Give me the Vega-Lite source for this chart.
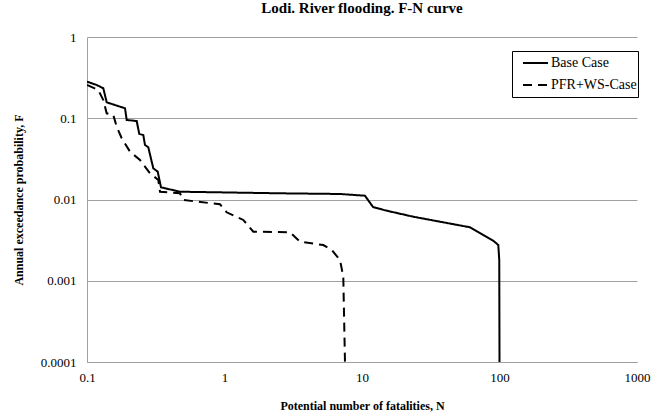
{
  "$schema": "https://vega.github.io/schema/vega-lite/v6.json",
  "width": 550,
  "height": 325,
  "autosize": {"type": "none"},
  "padding": {"left": 87, "top": 37, "right": 26, "bottom": 55},
  "background": "white",
  "title": {
    "text": "Lodi. River flooding. F-N curve",
    "font": "Liberation Serif",
    "fontSize": 15,
    "fontWeight": "bold",
    "color": "black",
    "anchor": "middle",
    "offset": 15
  },
  "data": {
    "values": [
      {"series": "Base Case", "N": 0.1, "F": 0.282},
      {"series": "Base Case", "N": 0.1176, "F": 0.2566},
      {"series": "Base Case", "N": 0.1314, "F": 0.2337},
      {"series": "Base Case", "N": 0.1391, "F": 0.157},
      {"series": "Base Case", "N": 0.189, "F": 0.1326},
      {"series": "Base Case", "N": 0.1944, "F": 0.0952},
      {"series": "Base Case", "N": 0.2298, "F": 0.0925},
      {"series": "Base Case", "N": 0.24, "F": 0.064},
      {"series": "Base Case", "N": 0.2567, "F": 0.0622},
      {"series": "Base Case", "N": 0.2641, "F": 0.0469},
      {"series": "Base Case", "N": 0.2791, "F": 0.0439},
      {"series": "Base Case", "N": 0.3035, "F": 0.0242},
      {"series": "Base Case", "N": 0.3268, "F": 0.022},
      {"series": "Base Case", "N": 0.3454, "F": 0.0141},
      {"series": "Base Case", "N": 0.4746, "F": 0.01247},
      {"series": "Base Case", "N": 2.533, "F": 0.01192},
      {"series": "Base Case", "N": 6.918, "F": 0.01169},
      {"series": "Base Case", "N": 10.51, "F": 0.01113},
      {"series": "Base Case", "N": 12.02, "F": 0.00809},
      {"series": "Base Case", "N": 14.7, "F": 0.00736},
      {"series": "Base Case", "N": 23.6, "F": 0.00614},
      {"series": "Base Case", "N": 61.0, "F": 0.00455},
      {"series": "Base Case", "N": 90.2, "F": 0.00311},
      {"series": "Base Case", "N": 98.0, "F": 0.00275},
      {"series": "Base Case", "N": 99.6, "F": 0.0018},
      {"series": "Base Case", "N": 100, "F": 0.0001},
      {"series": "PFR+WS-Case", "N": 0.1, "F": 0.2566},
      {"series": "PFR+WS-Case", "N": 0.1208, "F": 0.2228},
      {"series": "PFR+WS-Case", "N": 0.1314, "F": 0.1678},
      {"series": "PFR+WS-Case", "N": 0.1391, "F": 0.115},
      {"series": "PFR+WS-Case", "N": 0.1553, "F": 0.1096},
      {"series": "PFR+WS-Case", "N": 0.1644, "F": 0.0787},
      {"series": "PFR+WS-Case", "N": 0.1788, "F": 0.0567},
      {"series": "PFR+WS-Case", "N": 0.2055, "F": 0.0388},
      {"series": "PFR+WS-Case", "N": 0.243, "F": 0.0306},
      {"series": "PFR+WS-Case", "N": 0.2872, "F": 0.021},
      {"series": "PFR+WS-Case", "N": 0.33, "F": 0.0174},
      {"series": "PFR+WS-Case", "N": 0.3396, "F": 0.01247},
      {"series": "PFR+WS-Case", "N": 0.4746, "F": 0.01192},
      {"series": "PFR+WS-Case", "N": 0.5013, "F": 0.00986},
      {"series": "PFR+WS-Case", "N": 0.927, "F": 0.00873},
      {"series": "PFR+WS-Case", "N": 1.037, "F": 0.00696},
      {"series": "PFR+WS-Case", "N": 1.37, "F": 0.0056},
      {"series": "PFR+WS-Case", "N": 1.62, "F": 0.00402},
      {"series": "PFR+WS-Case", "N": 2.99, "F": 0.00395},
      {"series": "PFR+WS-Case", "N": 3.54, "F": 0.00303},
      {"series": "PFR+WS-Case", "N": 5.23, "F": 0.00275},
      {"series": "PFR+WS-Case", "N": 6.02, "F": 0.00239},
      {"series": "PFR+WS-Case", "N": 6.92, "F": 0.0018},
      {"series": "PFR+WS-Case", "N": 7.31, "F": 0.00112},
      {"series": "PFR+WS-Case", "N": 7.52, "F": 0.0001}
    ]
  },
  "mark": {"type": "line", "color": "black", "strokeWidth": 2, "clip": true},
  "encoding": {
    "x": {
      "field": "N",
      "type": "quantitative",
      "scale": {"type": "log", "domain": [0.1, 1000], "nice": false},
      "axis": {
        "values": [0.1, 1, 10, 100, 1000],
        "format": "~g",
        "title": "Potential number of fatalities, N",
        "grid": false,
        "ticks": false,
        "labelFlush": false,
        "labelOverlap": false,
        "labelFont": "Liberation Serif",
        "labelFontSize": 13,
        "labelPadding": 9,
        "titlePadding": 16
      }
    },
    "y": {
      "field": "F",
      "type": "quantitative",
      "scale": {"type": "log", "domain": [0.0001, 1], "nice": false},
      "axis": {
        "values": [0.0001, 0.001, 0.01, 0.1, 1],
        "format": "~g",
        "title": "Annual exceedance probability, F",
        "grid": true,
        "ticks": false,
        "labelFlush": false,
        "labelOverlap": false,
        "labelFont": "Liberation Serif",
        "labelFontSize": 13,
        "labelPadding": 11,
        "titlePadding": 15
      }
    },
    "strokeDash": {
      "field": "series",
      "type": "nominal",
      "scale": {"domain": ["Base Case", "PFR+WS-Case"], "range": [[1, 0], [9, 6]]},
      "legend": {
        "title": null,
        "orient": "none",
        "legendX": 425,
        "legendY": 14,
        "symbolType": "stroke",
        "symbolSize": 625,
        "symbolStrokeWidth": 2,
        "symbolStrokeColor": "black",
        "symbolOffset": 9,
        "clipHeight": 22,
        "strokeColor": "black",
        "fillColor": "white",
        "padding": 1,
        "rowPadding": 0,
        "labelOffset": 2,
        "labelFont": "Liberation Serif",
        "labelFontSize": 14,
        "labelColor": "black",
        "labelLimit": 200,
        "labelExpr": "datum.label + '\u00a0\u00a0'"
      }
    }
  },
  "config": {
    "view": {"stroke": null},
    "axis": {
      "labelFont": "Liberation Serif",
      "labelFontSize": 13,
      "labelColor": "black",
      "titleFont": "Liberation Serif",
      "titleFontSize": 12,
      "titleFontWeight": "bold",
      "titleColor": "black",
      "domainColor": "#a0a0a0",
      "domainWidth": 1,
      "gridColor": "#a0a0a0",
      "gridWidth": 1
    }
  }
}
